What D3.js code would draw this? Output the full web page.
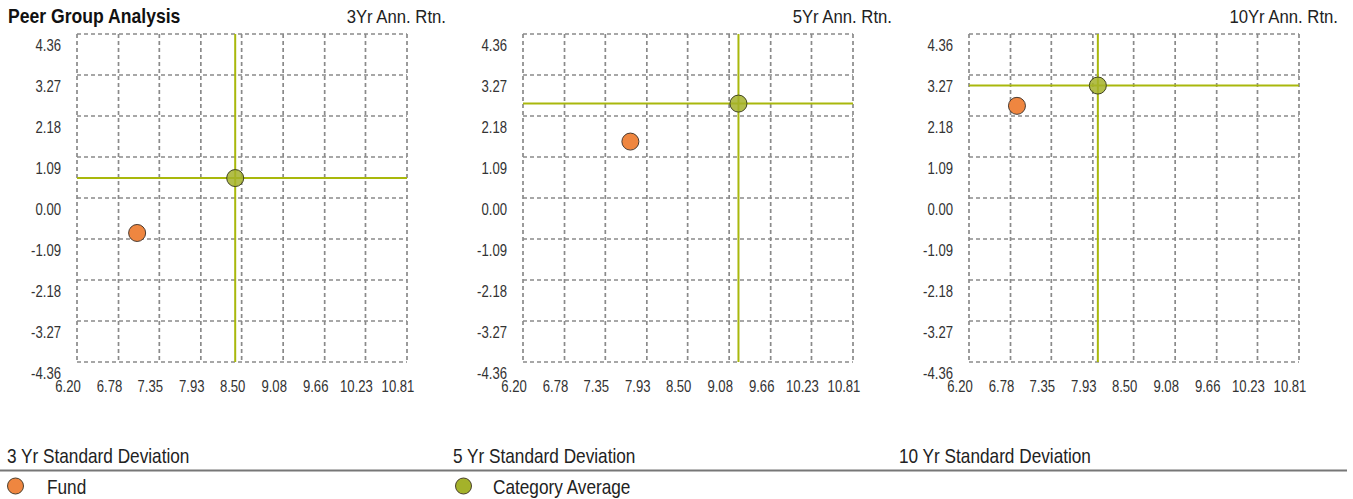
<!DOCTYPE html>
<html>
<head>
<meta charset="utf-8">
<script src="https://cdn.jsdelivr.net/npm/d3@7"></script>
<style>
body { margin: 0; background: #fff; }
text { font-family: "Liberation Sans", Arial, sans-serif; fill: #222; }
</style>
</head>
<body>
<div id="p"></div>
<script>
// chart data
var periods = ["3Yr Ann. Rtn.", "5Yr Ann. Rtn.", "10Yr Ann. Rtn."];
var sdLabels = ["3 Yr Standard Deviation", "5 Yr Standard Deviation", "10 Yr Standard Deviation"];
var xTicks = [6.20, 6.78, 7.35, 7.93, 8.50, 9.08, 9.66, 10.23, 10.81];
var yTicks = [4.36, 3.27, 2.18, 1.09, 0.00, -1.09, -2.18, -3.27, -4.36];
var fundX = [7.04, 7.70, 6.87];
var fundY = [-0.93, 1.50, 2.45];
var avgX = [8.41, 9.21, 8.00];
var avgY = [0.53, 2.51, 2.99];
var legendNames = ["Fund", "Category Average"];

var fundColor = "#ef8640", avgColor = "#a4b22a", lineColor = "#a9b80c";

var svg = d3.select("#p").append("svg")
    .attr("width", 1353)
    .attr("height", 499);

var w = 330, h = 328;
var x = d3.scaleLinear().domain([xTicks[0], xTicks[xTicks.length - 1]]).range([0, w]);
var y = d3.scaleLinear().domain([yTicks[yTicks.length - 1], yTicks[0]]).range([h, 0]);
var fmt = function(d) { return d.toFixed(2); };

// condensed look: Liberation Sans squeezed horizontally
function narrow(parent, px, py, sx, size, str, anchor, bold) {
  var t = parent.append("g")
      .attr("transform", "translate(" + px + "," + py + ") scale(" + sx + ",1)")
    .append("text")
      .attr("text-anchor", anchor || "start")
      .style("font-size", size + "px")
      .text(str);
  if (bold) t.style("font-weight", "bold").style("fill", "#111");
  return t;
}

narrow(svg, 8, 23, 0.88, 20, "Peer Group Analysis", "start", true);

periods.forEach(function(title, i) {
  var g = svg.append("g").attr("transform", "translate(" + (77 + i * 446) + ",34)");

  // dashed grid
  g.selectAll("line.vx")
    .data(xTicks)
    .enter().append("line")
      .attr("class", "vx")
      .attr("x1", function(d) { return x(d); })
      .attr("x2", function(d) { return x(d); })
      .attr("y1", 0).attr("y2", h);
  g.selectAll("line.hy")
    .data(yTicks)
    .enter().append("line")
      .attr("class", "hy")
      .attr("x1", 0).attr("x2", w)
      .attr("y1", function(d) { return y(d); })
      .attr("y2", function(d) { return y(d); });
  g.selectAll("line.vx, line.hy")
    .attr("stroke", "#8a8a8a")
    .attr("stroke-width", 1.7)
    .attr("stroke-dasharray", "4,3");

  // axis labels
  var sx = 0.82;
  var xa = g.append("g")
    .attr("transform", "translate(0," + h + ")")
    .call(d3.axisBottom(x).tickValues(xTicks).tickSize(0).tickFormat(fmt));
  xa.select(".domain").remove();
  xa.attr("font-family", null).attr("font-size", null);
  xa.selectAll("text")
    .attr("x", -9.5 / sx).attr("y", 30.5).attr("dy", 0)
    .attr("transform", "scale(" + sx + ",1)")
    .style("font-size", "16px").style("fill", "#333");

  var ya = g.append("g")
    .call(d3.axisLeft(y).tickValues(yTicks).tickSize(0).tickFormat(fmt));
  ya.select(".domain").remove();
  ya.attr("font-family", null).attr("font-size", null);
  ya.selectAll("text")
    .attr("x", -16 / sx).attr("y", 17).attr("dy", 0)
    .attr("transform", "scale(" + sx + ",1)")
    .style("font-size", "16px").style("fill", "#333");

  // category average crosshair
  g.append("line")
    .attr("x1", x(avgX[i])).attr("x2", x(avgX[i]))
    .attr("y1", 0).attr("y2", h)
    .attr("stroke", lineColor).attr("stroke-width", 2);
  g.append("line")
    .attr("x1", 0).attr("x2", w)
    .attr("y1", y(avgY[i])).attr("y2", y(avgY[i]))
    .attr("stroke", lineColor).attr("stroke-width", 2);

  g.append("circle")
    .attr("cx", x(fundX[i])).attr("cy", y(fundY[i])).attr("r", 8.5)
    .attr("fill", fundColor).attr("stroke", "#4a3a30").attr("stroke-width", 1);
  g.append("circle")
    .attr("cx", x(avgX[i])).attr("cy", y(avgY[i])).attr("r", 8.5)
    .attr("fill", avgColor).attr("fill-opacity", 0.85)
    .attr("stroke", "#3f4220").attr("stroke-width", 1);

  // panel title
  narrow(svg, 77 + i * 446 + 369, 23, 0.88, 19, title, "end");

  // std dev label under panel
  narrow(svg, 7 + i * 446, 463, 0.82, 21, sdLabels[i]);
});

svg.append("line")
  .attr("x1", 0).attr("x2", 1347)
  .attr("y1", 470.5).attr("y2", 470.5)
  .attr("stroke", "#777").attr("stroke-width", 2);

legendNames.forEach(function(name, i) {
  svg.append("circle")
    .attr("cx", 15.5 + i * 448).attr("cy", 486).attr("r", 8)
    .attr("fill", i == 0 ? fundColor : avgColor)
    .attr("stroke", "#4a4030").attr("stroke-width", 1);
  narrow(svg, 47 + i * 446, 494, 0.82, 21, name);
});
</script>
</body>
</html>
